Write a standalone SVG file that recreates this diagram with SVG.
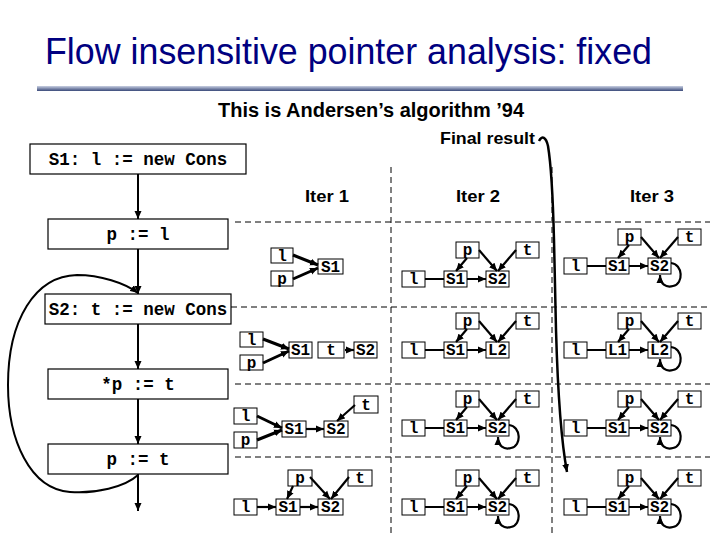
<svg xmlns="http://www.w3.org/2000/svg" width="720" height="540" viewBox="0 0 720 540">
<defs>
<linearGradient id="rule" x1="0" y1="0" x2="0" y2="1"><stop offset="0" stop-color="#c9d0e2"/><stop offset="1" stop-color="#3a4a7a"/></linearGradient>
<marker id="ah" markerUnits="userSpaceOnUse" markerWidth="9" markerHeight="8" refX="8" refY="4" orient="auto" viewBox="0 0 9 8"><path d="M0,0.5 L8,4 L0,7.5 z" fill="#000"/></marker>
</defs>
<style>
.fb{fill:#fff;stroke:#000;stroke-width:1.2}
.ft{font-family:"Liberation Mono","Courier New",monospace;font-weight:bold;font-size:17.5px;text-anchor:middle}
.nb{fill:#fff;stroke:#000;stroke-width:1}
.nt{font-family:"Liberation Mono","Courier New",monospace;font-weight:bold;font-size:16px;text-anchor:middle}
.e{fill:none;stroke:#000;stroke-width:2.2;marker-end:url(#ah)}
.e3{fill:none;stroke:#000;stroke-width:3;marker-end:url(#ah)}
.fe{fill:none;stroke:#000;stroke-width:2;marker-end:url(#ah)}
.d{fill:none;stroke:#000;stroke-width:1;stroke-dasharray:6 4}
.h{font-family:"Liberation Sans",Arial,sans-serif;font-weight:bold;text-anchor:middle;font-size:17px}
</style>
<rect width="720" height="540" fill="#fff"/>
<text x="45" y="64" font-family="Liberation Sans, Arial, sans-serif" font-size="36" fill="#000080" textLength="607" lengthAdjust="spacingAndGlyphs">Flow insensitive pointer analysis: fixed</text>
<rect x="37" y="86" width="646" height="5" fill="url(#rule)"/>
<text class="h" x="371" y="117" style="font-size:20px" textLength="306" lengthAdjust="spacingAndGlyphs">This is Andersen’s algorithm ’94</text>
<text class="h" x="487.5" y="144" textLength="95" lengthAdjust="spacingAndGlyphs">Final result</text>
<text class="h" x="327" y="202" textLength="44" lengthAdjust="spacingAndGlyphs">Iter 1</text>
<text class="h" x="478" y="202" textLength="44" lengthAdjust="spacingAndGlyphs">Iter 2</text>
<text class="h" x="652" y="202" textLength="44" lengthAdjust="spacingAndGlyphs">Iter 3</text>

<g id="grid">
<path class="d" d="M235,222 H710 M231,307 H710 M235,384 H710 M235,457 H710"/>
<path class="d" d="M391,167 V535 M552,167 V535"/>
</g>

<g id="flow-S1"><rect class="fb" x="30" y="144" width="216" height="30"/><text class="ft" x="138" y="165">S1: l := new Cons</text></g>
<g id="flow-pl"><rect class="fb" x="48" y="219" width="180" height="30"/><text class="ft" x="138" y="240">p := l</text></g>
<g id="flow-S2"><rect class="fb" x="45" y="294" width="186" height="30"/><text class="ft" x="138" y="315">S2: t := new Cons</text></g>
<g id="flow-store"><rect class="fb" x="48" y="369" width="180" height="30"/><text class="ft" x="138" y="390">*p := t</text></g>
<g id="flow-pt"><rect class="fb" x="48" y="444" width="180" height="30"/><text class="ft" x="138" y="465">p := t</text></g>

<g id="iter1">
<g id="i1r1-l"><rect class="nb" x="271" y="248" width="22" height="15"/><text class="nt" x="282" y="260.5">l</text></g>
<g id="i1r1-p"><rect class="nb" x="271" y="271" width="22" height="15"/><text class="nt" x="282" y="283.5">p</text></g>
<g id="i1r1-S1"><rect class="nb" x="318" y="259" width="25" height="15"/><text class="nt" x="330.5" y="271.5">S1</text></g>
<g id="i1r2-l"><rect class="nb" x="240" y="332" width="23" height="15"/><text class="nt" x="251.5" y="344.5">l</text></g>
<g id="i1r2-p"><rect class="nb" x="240" y="355" width="23" height="15"/><text class="nt" x="251.5" y="367.5">p</text></g>
<g id="i1r2-S1"><rect class="nb" x="289" y="342" width="23" height="16"/><text class="nt" x="300.5" y="355">S1</text></g>
<g id="i1r2-t"><rect class="nb" x="318" y="342" width="26" height="16"/><text class="nt" x="331" y="355">t</text></g>
<g id="i1r2-S2"><rect class="nb" x="354" y="342" width="23" height="16"/><text class="nt" x="365.5" y="355">S2</text></g>
<g id="i1r3-l"><rect class="nb" x="234" y="408" width="23" height="16"/><text class="nt" x="245.5" y="421">l</text></g>
<g id="i1r3-p"><rect class="nb" x="234" y="432" width="23" height="16"/><text class="nt" x="245.5" y="445">p</text></g>
<g id="i1r3-S1"><rect class="nb" x="282" y="421" width="24" height="16"/><text class="nt" x="294" y="434">S1</text></g>
<g id="i1r3-S2"><rect class="nb" x="324" y="421" width="24" height="16"/><text class="nt" x="336" y="434">S2</text></g>
<g id="i1r3-t"><rect class="nb" x="354" y="396" width="24" height="17"/><text class="nt" x="366" y="409.5">t</text></g>
<g id="i1r4-p"><rect class="nb" x="288" y="470" width="24" height="16"/><text class="nt" x="300" y="483">p</text></g>
<g id="i1r4-t"><rect class="nb" x="348" y="470" width="24" height="16"/><text class="nt" x="360" y="483">t</text></g>
<g id="i1r4-l"><rect class="nb" x="234" y="499" width="23" height="16"/><text class="nt" x="245.5" y="512">l</text></g>
<g id="i1r4-S1"><rect class="nb" x="276" y="499" width="24" height="16"/><text class="nt" x="288" y="512">S1</text></g>
<g id="i1r4-S2"><rect class="nb" x="318" y="499" width="25" height="16"/><text class="nt" x="330.5" y="512">S2</text></g>
</g>

<g id="iter2">
<g transform="translate(0,242)">
<g id="i2r1-p"><rect class="nb" x="456" y="0" width="23" height="16"/><text class="nt" x="467.5" y="13">p</text></g>
<g id="i2r1-t"><rect class="nb" x="516" y="0" width="23" height="16"/><text class="nt" x="527.5" y="13">t</text></g>
<g id="i2r1-l"><rect class="nb" x="402" y="29" width="23" height="16"/><text class="nt" x="413.5" y="42">l</text></g>
<g id="i2r1-S1"><rect class="nb" x="444" y="29" width="23" height="16"/><text class="nt" x="455.5" y="42">S1</text></g>
<g id="i2r1-S2"><rect class="nb" x="486" y="29" width="23" height="16"/><text class="nt" x="497.5" y="42">S2</text></g>
</g>
<g transform="translate(0,313)">
<g id="i2r2-p"><rect class="nb" x="456" y="0" width="23" height="16"/><text class="nt" x="467.5" y="13">p</text></g>
<g id="i2r2-t"><rect class="nb" x="516" y="0" width="23" height="16"/><text class="nt" x="527.5" y="13">t</text></g>
<g id="i2r2-l"><rect class="nb" x="402" y="29" width="23" height="16"/><text class="nt" x="413.5" y="42">l</text></g>
<g id="i2r2-S1"><rect class="nb" x="444" y="29" width="23" height="16"/><text class="nt" x="455.5" y="42">S1</text></g>
<g id="i2r2-L2"><rect class="nb" x="486" y="29" width="23" height="16"/><text class="nt" x="497.5" y="42">L2</text></g>
</g>
<g transform="translate(0,391)">
<g id="i2r3-p"><rect class="nb" x="456" y="0" width="23" height="16"/><text class="nt" x="467.5" y="13">p</text></g>
<g id="i2r3-t"><rect class="nb" x="516" y="0" width="23" height="16"/><text class="nt" x="527.5" y="13">t</text></g>
<g id="i2r3-l"><rect class="nb" x="402" y="29" width="23" height="16"/><text class="nt" x="413.5" y="42">l</text></g>
<g id="i2r3-S1"><rect class="nb" x="444" y="29" width="23" height="16"/><text class="nt" x="455.5" y="42">S1</text></g>
<g id="i2r3-S2"><rect class="nb" x="486" y="29" width="23" height="16"/><text class="nt" x="497.5" y="42">S2</text></g>
</g>
<g transform="translate(0,470)">
<g id="i2r4-p"><rect class="nb" x="456" y="0" width="23" height="16"/><text class="nt" x="467.5" y="13">p</text></g>
<g id="i2r4-t"><rect class="nb" x="516" y="0" width="23" height="16"/><text class="nt" x="527.5" y="13">t</text></g>
<g id="i2r4-l"><rect class="nb" x="402" y="29" width="23" height="16"/><text class="nt" x="413.5" y="42">l</text></g>
<g id="i2r4-S1"><rect class="nb" x="444" y="29" width="23" height="16"/><text class="nt" x="455.5" y="42">S1</text></g>
<g id="i2r4-S2"><rect class="nb" x="486" y="29" width="23" height="16"/><text class="nt" x="497.5" y="42">S2</text></g>
</g>
</g>

<g id="iter3">
<g transform="translate(162,229)">
<g id="i3r1-p"><rect class="nb" x="456" y="0" width="23" height="16"/><text class="nt" x="467.5" y="13">p</text></g>
<g id="i3r1-t"><rect class="nb" x="516" y="0" width="23" height="16"/><text class="nt" x="527.5" y="13">t</text></g>
<g id="i3r1-l"><rect class="nb" x="402" y="29" width="23" height="16"/><text class="nt" x="413.5" y="42">l</text></g>
<g id="i3r1-S1"><rect class="nb" x="444" y="29" width="23" height="16"/><text class="nt" x="455.5" y="42">S1</text></g>
<g id="i3r1-S2"><rect class="nb" x="486" y="29" width="23" height="16"/><text class="nt" x="497.5" y="42">S2</text></g>
</g>
<g transform="translate(162,313)">
<g id="i3r2-p"><rect class="nb" x="456" y="0" width="23" height="16"/><text class="nt" x="467.5" y="13">p</text></g>
<g id="i3r2-t"><rect class="nb" x="516" y="0" width="23" height="16"/><text class="nt" x="527.5" y="13">t</text></g>
<g id="i3r2-l"><rect class="nb" x="402" y="29" width="23" height="16"/><text class="nt" x="413.5" y="42">l</text></g>
<g id="i3r2-L1"><rect class="nb" x="444" y="29" width="23" height="16"/><text class="nt" x="455.5" y="42">L1</text></g>
<g id="i3r2-L2"><rect class="nb" x="486" y="29" width="23" height="16"/><text class="nt" x="497.5" y="42">L2</text></g>
</g>
<g transform="translate(162,391)">
<g id="i3r3-p"><rect class="nb" x="456" y="0" width="23" height="16"/><text class="nt" x="467.5" y="13">p</text></g>
<g id="i3r3-t"><rect class="nb" x="516" y="0" width="23" height="16"/><text class="nt" x="527.5" y="13">t</text></g>
<g id="i3r3-l"><rect class="nb" x="402" y="29" width="23" height="16"/><text class="nt" x="413.5" y="42">l</text></g>
<g id="i3r3-S1"><rect class="nb" x="444" y="29" width="23" height="16"/><text class="nt" x="455.5" y="42">S1</text></g>
<g id="i3r3-S2"><rect class="nb" x="486" y="29" width="23" height="16"/><text class="nt" x="497.5" y="42">S2</text></g>
</g>
<g transform="translate(162,470)">
<g id="i3r4-p"><rect class="nb" x="456" y="0" width="23" height="16"/><text class="nt" x="467.5" y="13">p</text></g>
<g id="i3r4-t"><rect class="nb" x="516" y="0" width="23" height="16"/><text class="nt" x="527.5" y="13">t</text></g>
<g id="i3r4-l"><rect class="nb" x="402" y="29" width="23" height="16"/><text class="nt" x="413.5" y="42">l</text></g>
<g id="i3r4-S1"><rect class="nb" x="444" y="29" width="23" height="16"/><text class="nt" x="455.5" y="42">S1</text></g>
<g id="i3r4-S2"><rect class="nb" x="486" y="29" width="23" height="16"/><text class="nt" x="497.5" y="42">S2</text></g>
</g>
</g>

<g id="connectors">
<path class="fe" d="M138,174 L138,219"/>
<path class="fe" d="M138,249 L138,294"/>
<path class="fe" d="M138,324 L138,369"/>
<path class="fe" d="M138,399 L138,444"/>
<path class="fe" d="M138,474 L138,511"/>
<path class="fe" d="M138,475 C125,487 95,494 70,492 C30,489 8,440 8,385 C8,320 35,276 77,275 C100,275 125,283 138,293"/>
<path class="fe" style="stroke-width:2.5" d="M539,141 C542,135 546,137 548,146 C552,170 553,200 554,240 L556,330 C558,400 561,440 567,472"/>

<path class="e3" d="M293,255 L318,265"/>
<path class="e3" d="M293,279 L318,268"/>
<path class="e3" d="M263,339 L289,349"/>
<path class="e3" d="M263,363 L289,351"/>
<path class="e" d="M345,350 L354,350"/>
<path class="e3" d="M257,416 L282,428"/>
<path class="e3" d="M257,440 L282,430"/>
<path class="e" d="M306,429 L324,429"/>
<path class="e" d="M355,405 L337,421"/>
<path class="e" d="M257,507 L276,507"/>
<path class="e" d="M300,507 L318,507"/>
<path class="e" d="M293,486 L287,499"/>
<path class="e" d="M310,477 L330,499"/>
<path class="e" d="M349,477 L331,499"/>

<g transform="translate(0,242)"><path class="e" d="M425,37 L444,37 M467,37 L486,37"/><path class="e" d="M467,16 L456,29"/><path class="e" d="M479,8 L497,29"/><path class="e" d="M516,8 L498,29"/></g>
<g transform="translate(0,313)"><path class="e" d="M425,37 L444,37 M467,37 L486,37"/><path class="e" d="M467,16 L456,29"/><path class="e" d="M479,8 L497,29"/><path class="e" d="M516,8 L498,29"/></g>
<g transform="translate(0,391)"><path class="e" d="M425,37 L444,37 M467,37 L486,37"/><path class="e" d="M467,16 L456,29"/><path class="e" d="M479,8 L497,29"/><path class="e" d="M516,8 L498,29"/><path class="e" d="M509,34 C521,35 522,55 511,57 C504,59 498,55 498,46"/></g>
<g transform="translate(0,470)"><path class="e" d="M425,37 L444,37 M467,37 L486,37"/><path class="e" d="M467,16 L456,29"/><path class="e" d="M479,8 L497,29"/><path class="e" d="M516,8 L498,29"/><path class="e" d="M509,34 C521,35 522,55 511,57 C504,59 498,55 498,46"/></g>
<g transform="translate(162,229)"><path class="e" d="M425,37 L444,37 M467,37 L486,37"/><path class="e" d="M467,16 L456,29"/><path class="e" d="M479,8 L497,29"/><path class="e" d="M516,8 L498,29"/><path class="e" d="M509,34 C521,35 522,55 511,57 C504,59 498,55 498,46"/></g>
<g transform="translate(162,313)"><path class="e" d="M425,37 L444,37 M467,37 L486,37"/><path class="e" d="M467,16 L456,29"/><path class="e" d="M479,8 L497,29"/><path class="e" d="M516,8 L498,29"/><path class="e" d="M509,34 C521,35 522,55 511,57 C504,59 498,55 498,46"/></g>
<g transform="translate(162,391)"><path class="e" d="M425,37 L444,37 M467,37 L486,37"/><path class="e" d="M467,16 L456,29"/><path class="e" d="M479,8 L497,29"/><path class="e" d="M516,8 L498,29"/><path class="e" d="M509,34 C521,35 522,55 511,57 C504,59 498,55 498,46"/></g>
<g transform="translate(162,470)"><path class="e" d="M425,37 L444,37 M467,37 L486,37"/><path class="e" d="M467,16 L456,29"/><path class="e" d="M479,8 L497,29"/><path class="e" d="M516,8 L498,29"/><path class="e" d="M509,34 C521,35 522,55 511,57 C504,59 498,55 498,46"/></g>
</g>
</svg>
